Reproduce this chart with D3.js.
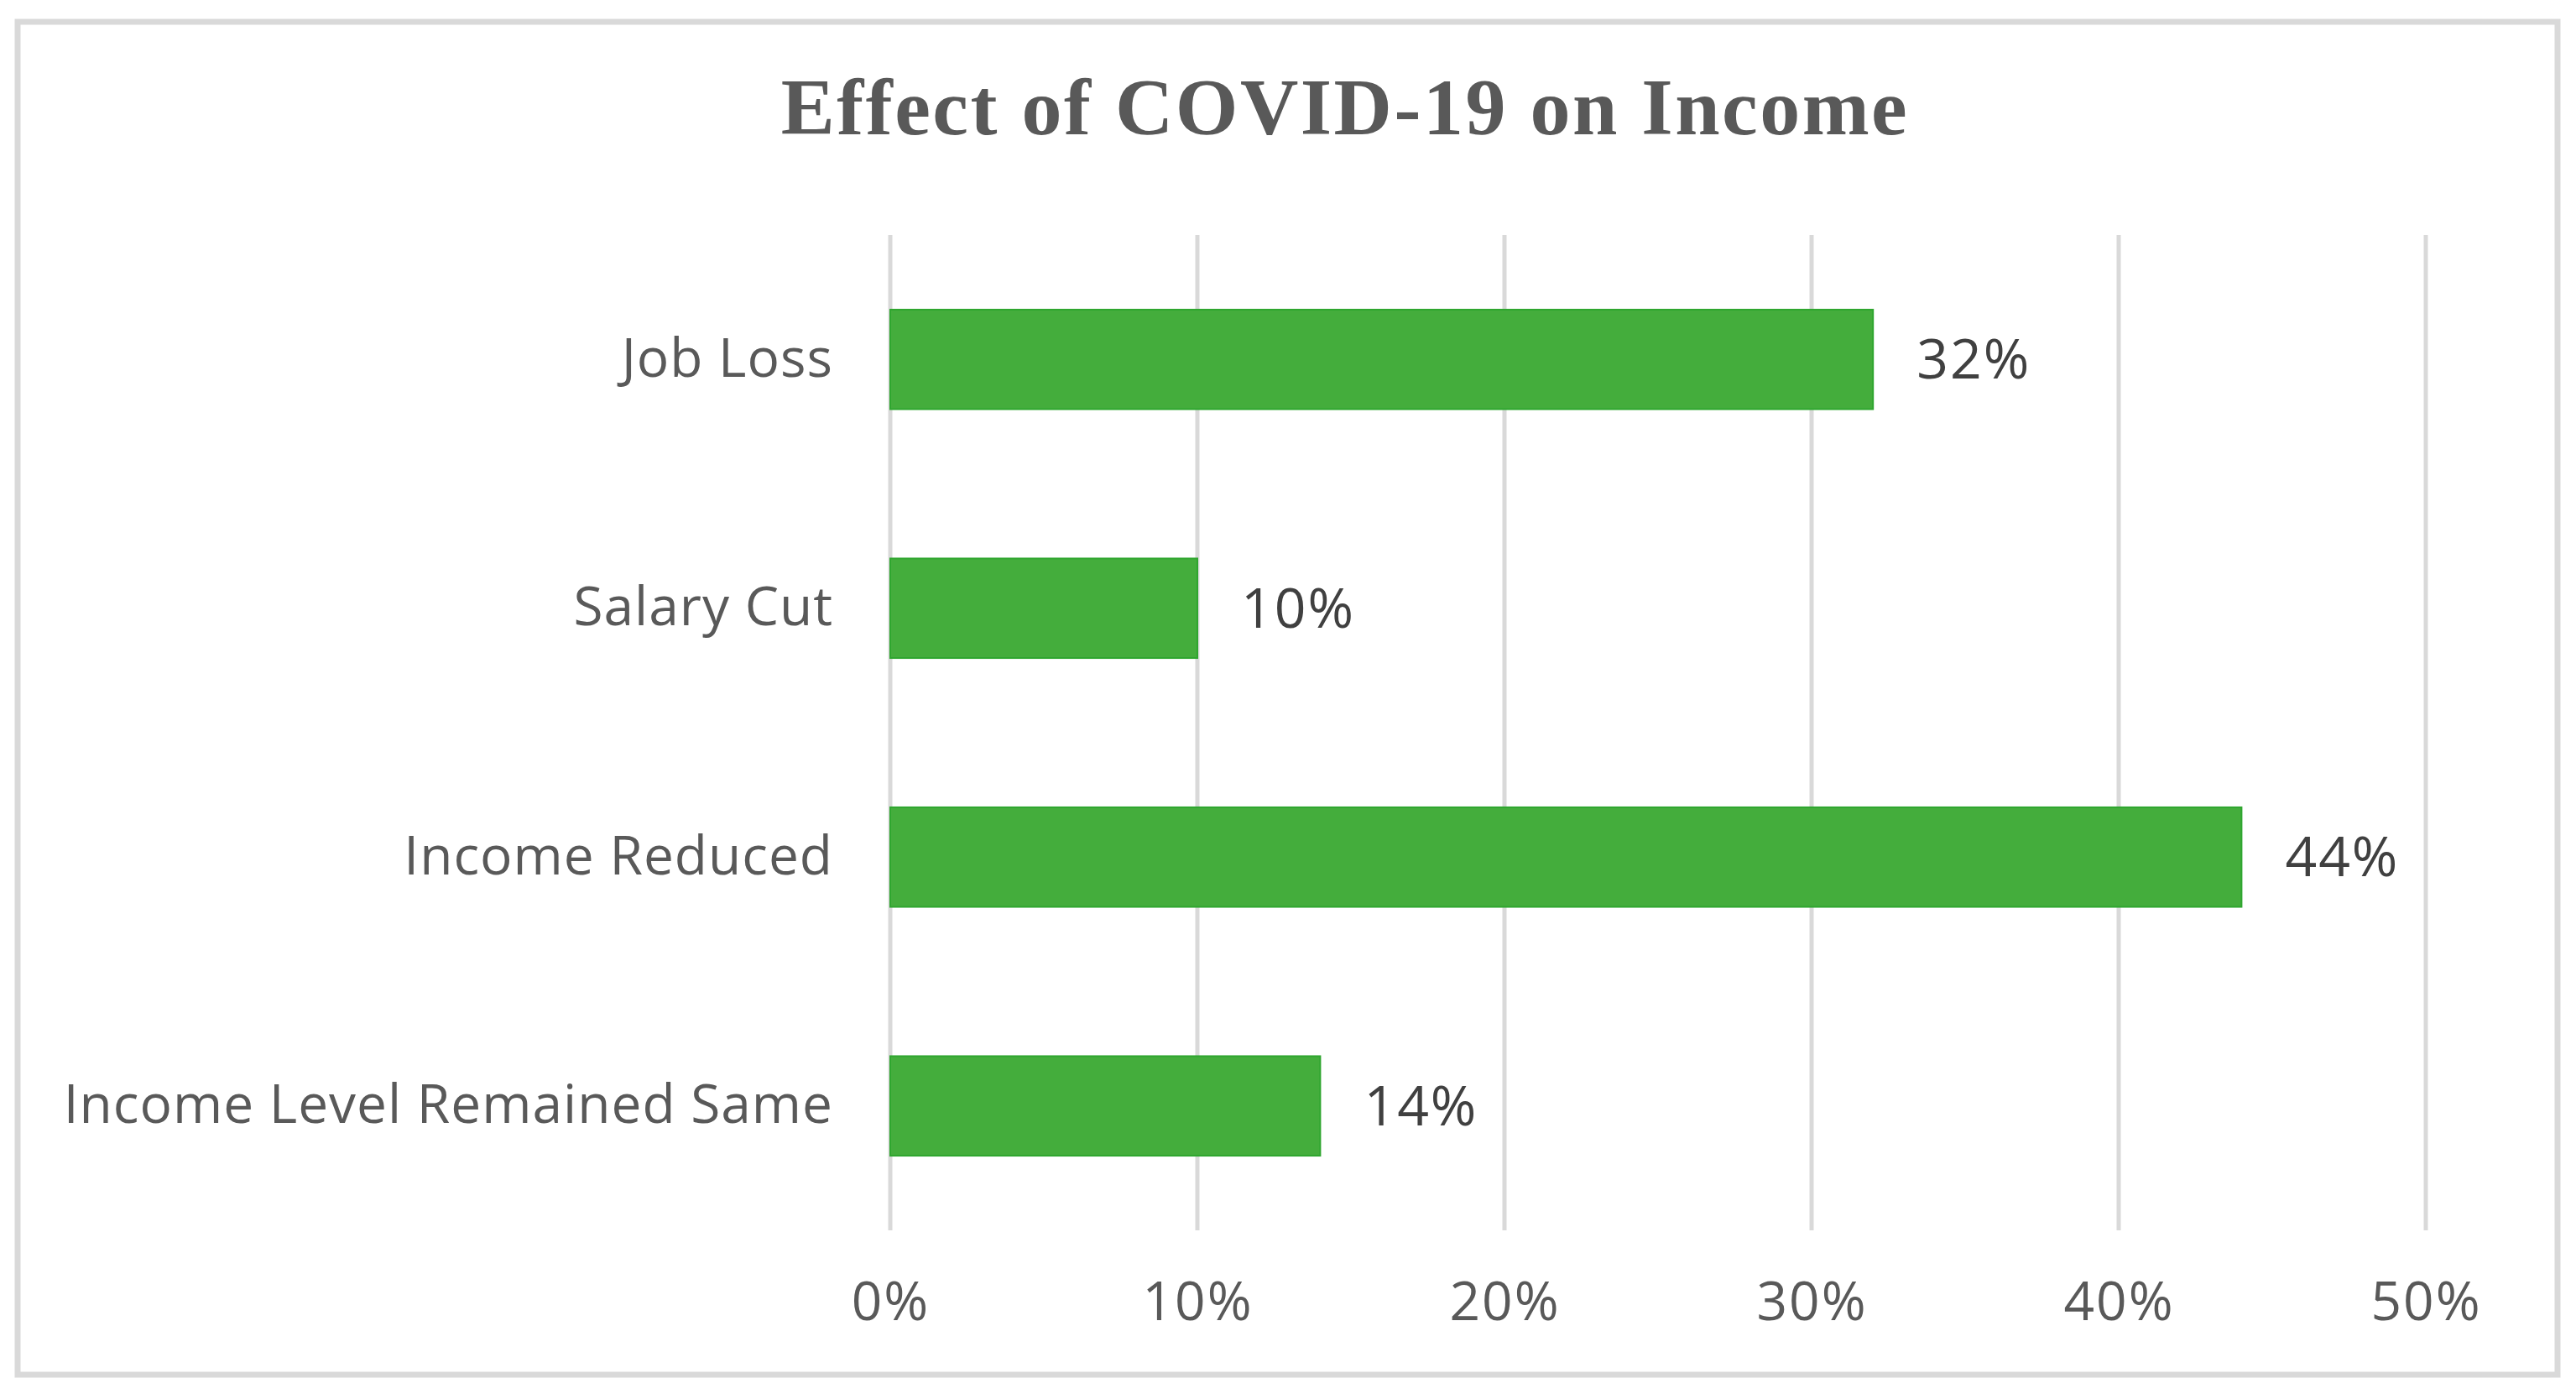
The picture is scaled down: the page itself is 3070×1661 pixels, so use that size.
<!DOCTYPE html>
<html>
<head>
<meta charset="utf-8">
<script src="https://cdn.jsdelivr.net/npm/d3@7"></script>
<style>
  body { margin: 0; background: #fff; }
  .tick text { font-family: "Open Sans", sans-serif; fill: #595959; }
</style>
</head>
<body>
<div id="chart"></div>
<script>
// chart data
var categories = ["Job Loss", "Salary Cut", "Income Reduced", "Income Level Remained Same"];
var values = [32, 10, 44, 14];
var xTicks = [0, 10, 20, 30, 40, 50];
var title = "Effect of COVID-19 on Income";

var svgWidth = 3070;
var svgHeight = 1661;

var margin = { top: 280, right: 179, bottom: 195, left: 1061 };
var chartWidth = svgWidth - margin.left - margin.right;
var chartHeight = svgHeight - margin.top - margin.bottom;

var svg = d3.select("#chart")
    .append("svg")
    .attr("width", svgWidth)
    .attr("height", svgHeight);

// outer frame
svg.append("rect")
    .attr("x", 21)
    .attr("y", 26)
    .attr("width", 3027)
    .attr("height", 1612)
    .attr("fill", "#fff")
    .attr("stroke", "#d9d9d9")
    .attr("stroke-width", 7);

svg.append("text")
    .attr("x", 1603)
    .attr("y", 160)
    .attr("text-anchor", "middle")
    .attr("font-family", "'Liberation Serif', serif")
    .attr("font-weight", "bold")
    .attr("font-size", "96px")
    .attr("letter-spacing", "2.5px")
    .attr("fill", "#595959")
    .text(title);

var chartGroup = svg.append("g")
    .attr("transform", `translate(${margin.left},${margin.top})`);

var xScale = d3.scaleLinear()
    .domain([0, 50])
    .range([0, chartWidth]);

var yScale = d3.scaleBand()
    .domain(categories)
    .range([0, chartHeight])
    .paddingInner(0.6)
    .paddingOuter(0.3);

// vertical gridlines
chartGroup.append("g")
    .selectAll("line")
    .data(xTicks)
    .enter()
    .append("line")
    .attr("x1", d => xScale(d))
    .attr("x2", d => xScale(d))
    .attr("y1", 0)
    .attr("y2", chartHeight)
    .attr("stroke", "#d9d9d9")
    .attr("stroke-width", 5);

// x axis labels
var bottomAxis = d3.axisBottom(xScale)
    .tickValues(xTicks)
    .tickSize(0)
    .tickPadding(62)
    .tickFormat(d => d + "%");

var xAxis = chartGroup.append("g")
    .attr("transform", `translate(0, ${chartHeight})`)
    .call(bottomAxis);
xAxis.select(".domain").remove();
xAxis.selectAll("text")
    .attr("font-size", "64px")
    .attr("letter-spacing", "2px");

// y axis labels
var leftAxis = d3.axisLeft(yScale)
    .tickSize(0)
    .tickPadding(68);

var yAxis = chartGroup.append("g").call(leftAxis);
yAxis.select(".domain").remove();
yAxis.selectAll("text")
    .attr("font-size", "64px")
    .attr("letter-spacing", "1px");

var data = categories.map((c, i) => ({ cat: c, value: values[i] }));

chartGroup.selectAll("rect.bar")
    .data(data)
    .enter()
    .append("rect")
    .attr("class", "bar")
    .attr("x", 0)
    .attr("y", d => yScale(d.cat))
    .attr("width", d => xScale(d.value))
    .attr("height", yScale.bandwidth())
    .attr("fill", "#44ad3c")
    .attr("stroke", "#2fa62f")
    .attr("stroke-width", 2);

// value labels
chartGroup.selectAll("text.val")
    .data(data)
    .enter()
    .append("text")
    .attr("class", "val")
    .attr("x", d => xScale(d.value) + 52)
    .attr("y", d => yScale(d.cat) + yScale.bandwidth() / 2)
    .attr("dy", "0.35em")
    .attr("font-family", "'Open Sans', sans-serif")
    .attr("font-size", "66px")
    .attr("letter-spacing", "2px")
    .attr("fill", "#404040")
    .text(d => d.value + "%");
</script>
</body>
</html>
